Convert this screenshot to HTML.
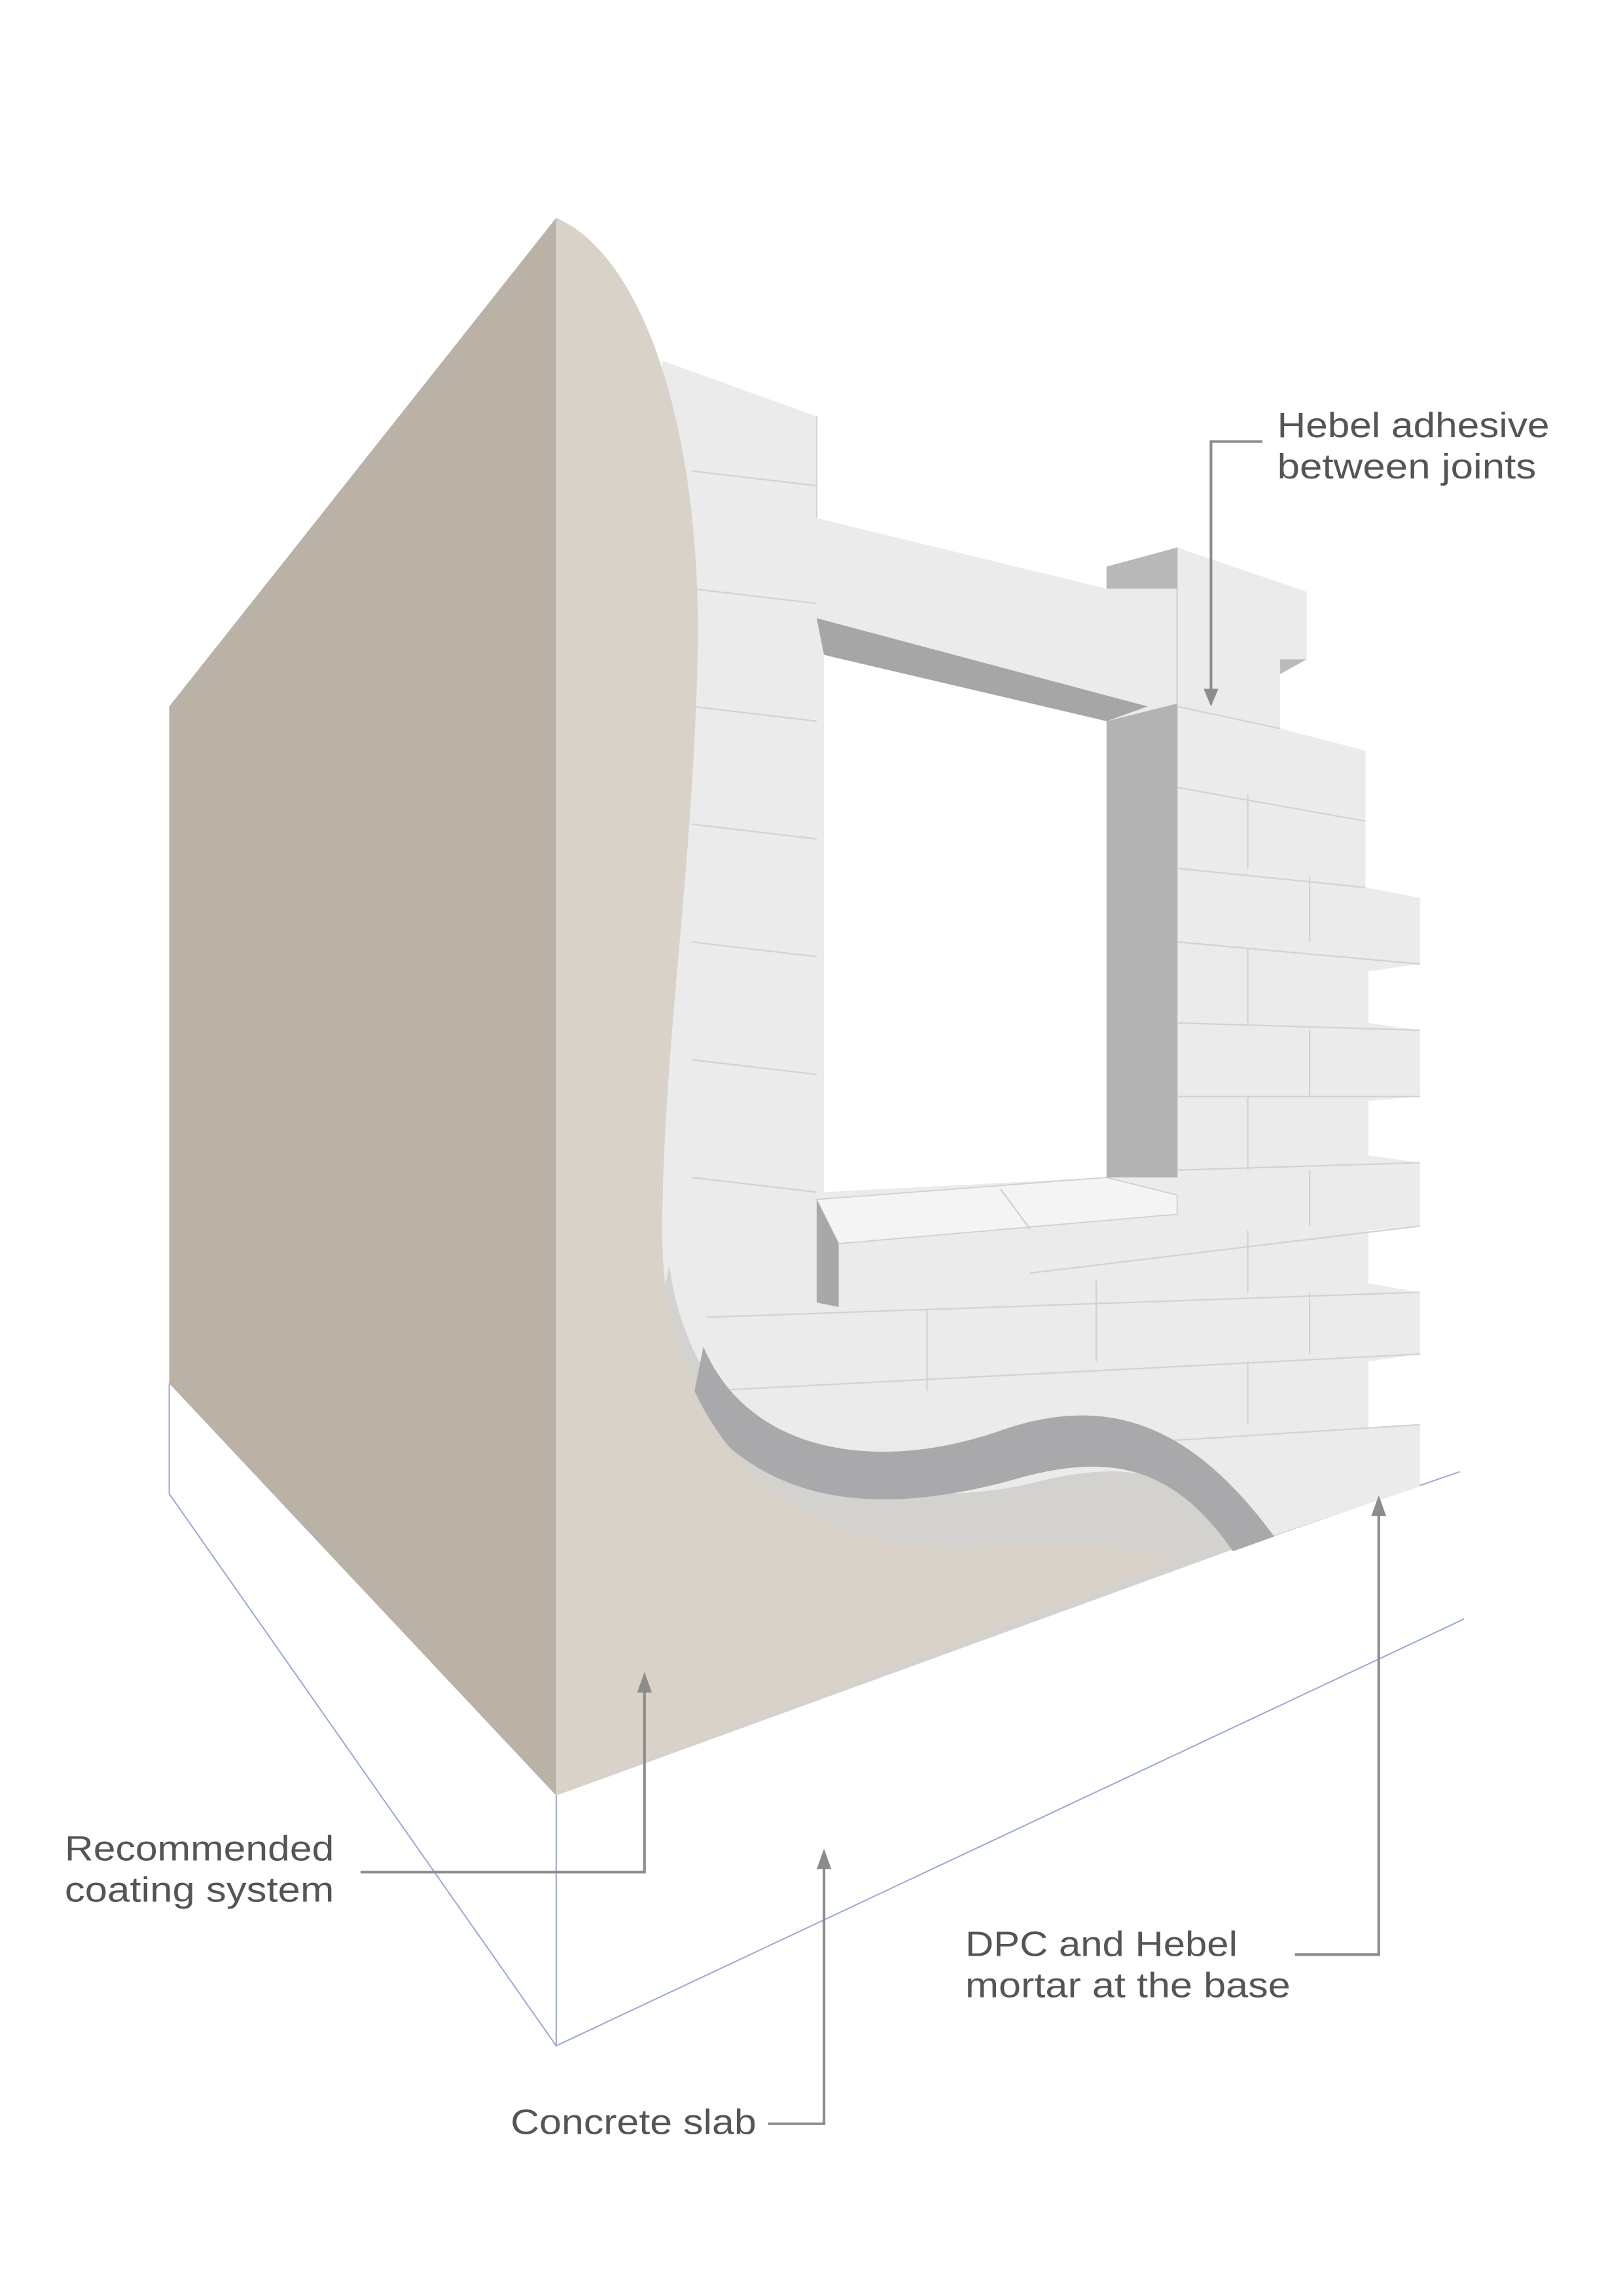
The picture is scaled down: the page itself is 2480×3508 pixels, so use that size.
<!DOCTYPE html>
<html><head><meta charset="utf-8"><style>html,body{margin:0;padding:0;background:#fff}svg{display:block}</style></head>
<body>
<svg width="2480" height="3508" viewBox="0 0 1103 1560" preserveAspectRatio="none" xmlns="http://www.w3.org/2000/svg">
<!-- slab outline -->
<g stroke="#9aa8d6" stroke-width="0.9" fill="none">
<polyline points="115,940 115,1015 378,1390 995,1100"/>
<line x1="378" y1="1220" x2="378" y2="1390"/>
<line x1="840" y1="1052" x2="992" y2="1000"/>
</g>
<!-- block wall -->
<path d="M450,245 L555,283 L555,352 L752,400 L752,385 L800,372 L888,402 L888,448 L870,458 L870,495 L928,510 L928,558 L928,603 L965,610 L965,655 L930,660 L930,695 L965,700 L965,745 L930,748 L930,785 L965,790 L965,833 L930,836 L930,872 L965,878 L965,920 L930,925 L930,970 L965,968 L965,1010 L840,1052 L450,1052 Z" fill="#ebebeb"/>
<g stroke="#d2d2d2" stroke-width="1" fill="none">
<line x1="555" y1="283" x2="555" y2="352"/>
<line x1="800" y1="372" x2="800" y2="800"/>
<line x1="800" y1="480" x2="870" y2="495"/>
<line x1="800" y1="535" x2="928" y2="558"/>
<line x1="800" y1="590" x2="928" y2="603"/>
<line x1="800" y1="640" x2="965" y2="655"/>
<line x1="800" y1="695" x2="965" y2="700"/>
<line x1="800" y1="745" x2="965" y2="745"/>
<line x1="800" y1="795" x2="965" y2="790"/>
<line x1="700" y1="865" x2="965" y2="833"/>
<line x1="480" y1="895" x2="965" y2="878"/>
<line x1="480" y1="945" x2="965" y2="920"/>
<line x1="620" y1="990" x2="965" y2="968"/>
<line x1="848" y1="540" x2="848" y2="590"/>
<line x1="890" y1="595" x2="890" y2="640"/>
<line x1="848" y1="645" x2="848" y2="695"/>
<line x1="890" y1="700" x2="890" y2="745"/>
<line x1="848" y1="745" x2="848" y2="795"/>
<line x1="890" y1="795" x2="890" y2="833"/>
<line x1="848" y1="836" x2="848" y2="878"/>
<line x1="745" y1="870" x2="745" y2="925"/>
<line x1="890" y1="878" x2="890" y2="920"/>
<line x1="630" y1="890" x2="630" y2="945"/>
<line x1="848" y1="925" x2="848" y2="968"/>
<line x1="470" y1="320" x2="555" y2="330"/>
<line x1="470" y1="400" x2="555" y2="410"/>
<line x1="470" y1="480" x2="555" y2="490"/>
<line x1="470" y1="560" x2="555" y2="570"/>
<line x1="470" y1="640" x2="555" y2="650"/>
<line x1="470" y1="720" x2="555" y2="730"/>
<line x1="470" y1="800" x2="555" y2="810"/>
</g>
<!-- pillar top dark side -->
<polygon points="752,385 800,372 800,400 752,400" fill="#b8b8b8"/>
<polygon points="870,458 888,448 870,448" fill="#bbb"/>
<!-- lintel underside -->
<polygon points="555,420 780,480 752,490 560,445" fill="#a6a6a6"/>
<!-- window -->
<polygon points="560,445 752,490 752,800 560,810" fill="#ffffff"/>
<!-- right reveal -->
<polygon points="752,490 800,478 800,800 752,800" fill="#b3b3b3"/>
<!-- sill -->
<polygon points="555,815 752,800 800,812 800,825 570,845" fill="#f4f4f4" stroke="#d0d0d0" stroke-width="0.8"/>
<polygon points="555,815 570,845 570,888 555,885" fill="#a8a8a8"/>
<line x1="680" y1="808" x2="700" y2="835" stroke="#d0d0d0"/>
<!-- light coat layer -->
<path d="M455,860 C470,980 580,1035 700,1008 C770,990 810,1000 840,1052 L378,1220 Z" fill="#d3d2cf"/>
<!-- DPC dark band -->
<path d="M478,915 C510,990 600,1000 680,972 C760,944 815,975 866,1044 L838,1054 C800,1000 760,985 690,1005 C600,1030 520,1025 470,955 Z" fill="#a9a9ac"/>
<!-- left wall face -->
<polygon points="115,480 378,148 378,1220 115,940" fill="#bab1a7"/>
<!-- coating front face -->
<path d="M378,148 C440,175 478,300 474,450 C470,600 452,700 450,830 C448,980 540,1055 660,1052 C720,1050 770,1048 800,1060 L378,1220 Z" fill="#d9d2c9"/>
<!-- leaders -->
<g stroke="#8c8c8c" stroke-width="1.8" fill="none">
<polyline points="858,300 823,300 823,470"/>
<polyline points="245,1272 438,1272 438,1148"/>
<polyline points="522,1443 560,1443 560,1268"/>
<polyline points="880,1328 937,1328 937,1028"/>
</g>
<g fill="#8c8c8c">
<polygon points="818,468 828,468 823,480"/>
<polygon points="433,1150 443,1150 438,1136"/>
<polygon points="555,1270 565,1270 560,1256"/>
<polygon points="932,1030 942,1030 937,1016"/>
</g>
<g font-family="Liberation Sans, Arial, sans-serif" font-size="24" fill="#555">
<text x="868" y="297" textLength="185" lengthAdjust="spacingAndGlyphs">Hebel adhesive</text>
<text x="868" y="325" textLength="176" lengthAdjust="spacingAndGlyphs">between joints</text>
<text x="44" y="1264" textLength="183" lengthAdjust="spacingAndGlyphs">Recommended</text>
<text x="44" y="1292" textLength="183" lengthAdjust="spacingAndGlyphs">coating system</text>
<text x="347" y="1450" textLength="167" lengthAdjust="spacingAndGlyphs">Concrete slab</text>
<text x="656" y="1329" textLength="185" lengthAdjust="spacingAndGlyphs">DPC and Hebel</text>
<text x="656" y="1357" textLength="221" lengthAdjust="spacingAndGlyphs">mortar at the base</text>
</g>
</svg>
</body></html>
